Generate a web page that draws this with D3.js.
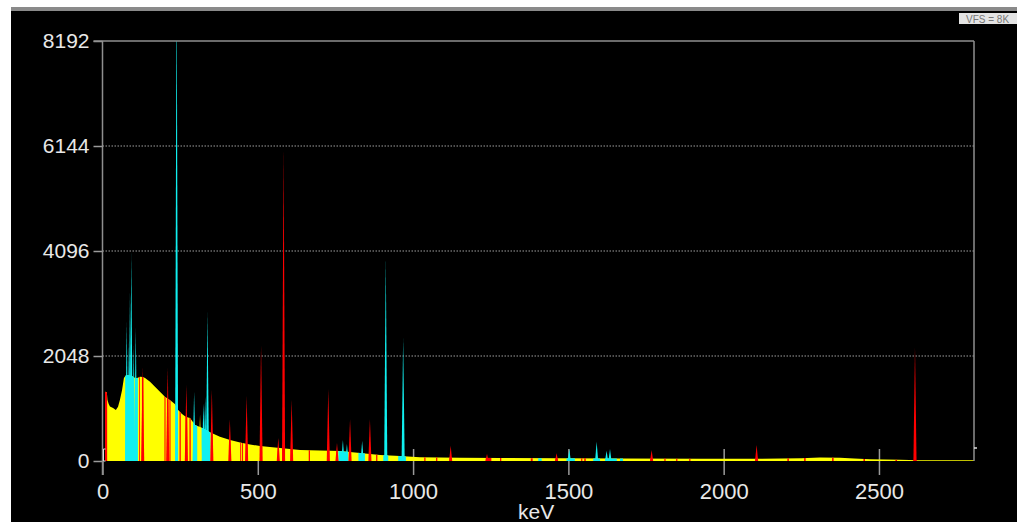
<!DOCTYPE html>
<html>
<head>
<meta charset="utf-8">
<script src="https://cdn.jsdelivr.net/npm/d3@7"></script>
<style>
    html, body { margin: 0; padding: 0; background: #fff; }
    text { font-family: "Liberation Sans", Arial, sans-serif; }
</style>
</head>
<body>
<svg id="chart" width="1017" height="522"></svg>
<script>
// continuum (background): energy keV / counts
const contKeV = [8, 14, 16, 20, 24, 34, 43, 50, 56, 63, 69, 76, 82, 95, 105, 112, 121, 130, 137, 153, 169, 185, 201, 217, 233, 243, 256, 269, 282, 298, 314, 330, 346, 378, 411, 443, 475, 507, 539, 572, 604, 636, 700, 765, 829, 894, 958, 1022, 1151, 1280, 1473, 1667, 1924, 2117, 2250, 2310, 2375, 2420, 2471, 2568, 2626, 2806];
const contCounts = [1350, 1340, 1190, 1110, 1063, 1034, 995, 1059, 1190, 1385, 1619, 1677, 1677, 1658, 1619, 1619, 1644, 1638, 1619, 1546, 1449, 1351, 1254, 1190, 1110, 1000, 917, 858, 840, 702, 663, 620, 560, 474, 410, 360, 322, 293, 273, 254, 234, 215, 205, 195, 156, 117, 98, 72, 62, 58, 53, 49, 45, 43, 55, 68, 62, 50, 33, 23, 14, 14];

// photopeaks: energy keV / top counts
const peakKeV = [78, 85, 88.5, 92.7, 100.5, 107, 129.4, 210, 238.6, 270, 295, 314, 325, 330.5, 338, 352, 410, 464, 510.5, 566, 583, 609, 727, 755, 774, 787, 797, 836, 861, 912, 968, 1121, 1238, 1462, 1503, 1591, 1623, 1634, 1768, 2106, 2616];
const peakCounts = [2711, 2302, 3296, 4057, 2260, 2594, 1840, 1814, 9600, 1482, 1350, 900, 1131, 1254, 2912, 1398, 813, 1268, 2262, 448, 6104, 1190, 1398, 350, 410, 332, 813, 390, 813, 3980, 2399, 299, 137, 150, 234, 377, 200, 234, 215, 312, 2223];

// regions of interest: start keV / end keV / colour key
const roiStart = [8, 117.5, 127, 199.5, 207.5, 215.5, 248, 267, 280, 349.5, 408, 443.5, 449.5, 461.5, 507, 564, 579.5, 606, 664, 724, 753, 794, 858, 881, 1036, 1074, 1117, 1234, 1280, 1379, 1458, 1541, 1551, 1764, 1809, 1847, 1889, 2102, 2205, 2259, 2349, 2450, 2553, 2610,
                  73, 104, 235.5, 292, 319, 759.5, 824, 904, 952, 1403, 1494, 1580, 1618, 1666];
const roiEnd = [15, 120, 132, 203, 212.5, 219, 252, 273, 284, 354.5, 412, 446.5, 452.5, 466.5, 514, 568, 586.5, 612, 668, 730, 757, 800, 864, 885, 1040, 1078, 1125, 1252, 1284, 1385, 1466, 1545, 1556, 1772, 1813, 1851, 1893, 2110, 2210, 2264, 2354, 2455, 2558, 2622,
                101, 114, 241.7, 305, 347.5, 791, 845, 920, 977, 1414, 1521, 1602, 1656, 1676];
const roiKind = roiStart.map((d, i) => i < 44 ? 'red' : 'cyan');

const xTicks = [0, 500, 1000, 1500, 2000, 2500];
const yTicks = [0, 2048, 4096, 6144, 8192];

const colors = { base: '#ffff00', red: '#ff0000', cyan: '#10f0f0' };

const svg = d3.select('#chart');
const x = d3.scaleLinear().domain([0, 2806]).range([102.5, 974]);
const y = d3.scaleLinear().domain([0, 8192]).range([461, 41]);

// frame of the window
svg.append('rect').attr('width', 1017).attr('height', 522).attr('fill', '#fff');
svg.append('rect').attr('x', 11).attr('y', 7).attr('width', 1006).attr('height', 4).attr('fill', '#8a8a8a');
svg.append('rect').attr('x', 11).attr('y', 11).attr('width', 1006).attr('height', 511).attr('fill', '#000');

// VFS badge
svg.append('rect').attr('x', 959).attr('y', 13).attr('width', 60).attr('height', 11).attr('fill', '#e4e4e4');
svg.append('text').attr('x', 966).attr('y', 22.5).attr('font-size', 10).attr('fill', '#777').text('VFS = 8K');

// dotted grid
svg.append('g').selectAll('line').data(yTicks.slice(1, 4)).join('line')
    .attr('x1', x(0)).attr('x2', x(2806))
    .attr('y1', d => y(d)).attr('y2', d => y(d))
    .attr('stroke', '#a0a0a0').attr('stroke-width', 1.2).attr('stroke-dasharray', '1.5,1.5');

// axes
const xAxis = svg.append('g')
    .attr('transform', `translate(0,${y(0) - 12})`)
    .call(d3.axisBottom(x).tickValues(xTicks).tickFormat(d3.format('d'))
        .tickSizeInner(26).tickSizeOuter(0).tickPadding(8));
xAxis.select('.domain').remove();
xAxis.selectAll('.tick line').attr('stroke', '#9a9a9a').attr('stroke-width', 1.5);
xAxis.selectAll('.tick text').attr('fill', '#e8e8e8').attr('font-size', 22).attr('font-family', '"Liberation Sans", Arial, sans-serif');

const yAxis = svg.append('g')
    .attr('transform', `translate(${x(0)},0)`)
    .call(d3.axisLeft(y).tickValues(yTicks).tickFormat(d3.format('d'))
        .tickSizeInner(9).tickSizeOuter(0).tickPadding(4));
yAxis.select('.domain').remove();
yAxis.selectAll('.tick line').attr('stroke', '#9a9a9a').attr('stroke-width', 1.5);
yAxis.selectAll('.tick text').attr('fill', '#e8e8e8').attr('font-size', 21).attr('font-family', '"Liberation Sans", Arial, sans-serif');

// spectrum
const defs = svg.append('defs');
defs.append('clipPath').attr('id', 'plot-clip').append('rect')
    .attr('x', x(0)).attr('y', y(8192)).attr('width', x(2806) - x(0)).attr('height', y(0) - y(8192));

roiStart.forEach((s, i) => {
    defs.append('clipPath').attr('id', 'roi-' + i).append('rect')
        .attr('x', x(s)).attr('y', y(8192))
        .attr('width', x(roiEnd[i]) - x(s)).attr('height', y(0) - y(8192));
});

const cont = d3.zip(contKeV, contCounts);
const peaks = d3.zip(peakKeV, peakCounts);
const peakHalf = 5; // keV at the base of a peak

// colour of a peak = colour of the region of interest it sits in
const roiColorAt = e => {
    const i = roiStart.findIndex((s, k) => e >= s && e <= roiEnd[k]);
    return i < 0 ? colors.base : colors[roiKind[i]];
};

const area = d3.area().x(d => x(d[0])).y0(y(0)).y1(d => y(d[1]));
const peakPath = d => `M${x(d[0] - peakHalf)},${y(0)}L${x(d[0])},${y(d[1])}L${x(d[0] + peakHalf)},${y(0)}Z`;

const plot = svg.append('g').attr('clip-path', 'url(#plot-clip)');
plot.append('path').attr('d', area(cont)).attr('fill', colors.base);

plot.selectAll('.roi').data(roiStart).join('path')
    .attr('class', 'roi')
    .attr('clip-path', (d, i) => `url(#roi-${i})`)
    .attr('d', area(cont))
    .attr('fill', (d, i) => colors[roiKind[i]]);

plot.selectAll('.peak').data(peaks).join('path')
    .attr('class', 'peak')
    .attr('d', peakPath)
    .attr('fill', d => roiColorAt(d[0]));

// borders
const border = svg.append('g').attr('stroke', '#8f8f8f').attr('stroke-width', 1.5).attr('fill', 'none');
border.append('line').attr('x1', x(0)).attr('x2', x(0)).attr('y1', y(8192)).attr('y2', y(0) + 14);
border.append('line').attr('x1', x(0) - 9).attr('x2', x(2806)).attr('y1', y(8192)).attr('y2', y(8192));
border.append('line').attr('x1', x(2806)).attr('x2', x(2806)).attr('y1', y(8192)).attr('y2', y(0));
border.append('line').attr('x1', x(2806)).attr('x2', x(2806) + 3).attr('y1', y(0) - 13).attr('y2', y(0) - 13).attr('stroke', '#ddd');
border.append('path').attr('d', `M${x(0) + 3},${y(0) - 12}H${x(0) + 1}V${y(0)}H${x(0) + 3}`).attr('stroke', '#ddd').attr('stroke-width', 1);

svg.append('text').attr('x', 518).attr('y', 519)
    .attr('font-size', 21).attr('fill', '#e8e8e8').text('keV');
</script>
</body>
</html>
